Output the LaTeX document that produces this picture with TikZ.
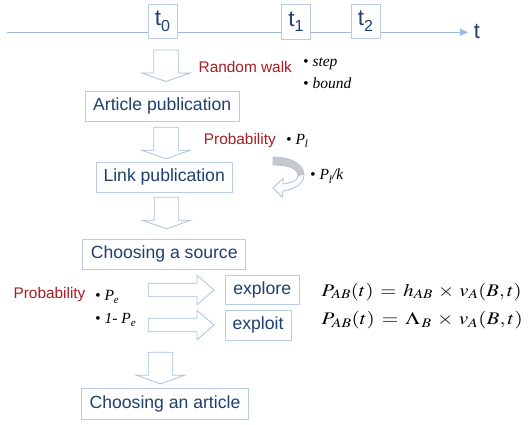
\documentclass[tikz,border=0pt]{standalone}
\usepackage{graphicx}
\usepackage{mathptmx}
\usepackage{fontspec}
\setmainfont{Liberation Sans}
\newfontfamily\tms{Liberation Serif}
\usetikzlibrary{arrows.meta}
\definecolor{txtblue}{HTML}{1F3F6E}
\definecolor{boxline}{HTML}{B9CDE5}
\definecolor{arrline}{HTML}{A9C2E0}
\definecolor{tline}{HTML}{9DB8DA}
\definecolor{lblred}{HTML}{A61D22}
\definecolor{bandgray}{HTML}{C8C8C8}
\newcommand\tlabel[1]{t\raisebox{-5.5pt}{\fontsize{16}{16}\selectfont #1}}
\newcommand\sbs[1]{\raisebox{-3.5pt}{\fontsize{11}{11}\selectfont #1}}
\newcommand\formula[2]{\resizebox{#1}{\height}{\fontsize{17.7}{20}\selectfont$\displaystyle #2$}}
\begin{document}
\begin{tikzpicture}[x=1pt,y=-1pt,
  box/.style={draw=boxline,line width=0.8pt,fill=white,inner sep=0pt,text=txtblue,font=\fontsize{17.6}{20}\selectfont},
  tbox/.style={box,minimum width=29pt,minimum height=34.5pt,font=\fontsize{22.5}{22}\selectfont},
  redlbl/.style={text=lblred,font=\fontsize{15.4}{18}\selectfont,inner sep=0pt},
  itl/.style={font=\tms\itshape\fontsize{15.5}{18}\selectfont,inner sep=0pt,anchor=west},
  blockarrow/.style={draw=arrline,line width=0.8pt,fill=white,line join=miter},
  darrow/.pic={\draw[blockarrow] (-12.3,0) -- (12.3,0) -- (12.3,23) -- (24,23) -- (0,31.5) -- (-24,23) -- (-12.3,23) -- cycle;},
  rarrow/.pic={\draw[blockarrow] (0,-6.7) -- (48.7,-6.7) -- (48.7,-14.7) -- (65.7,0) -- (48.7,14.7) -- (48.7,6.7) -- (0,6.7) -- cycle;},
]
\useasboundingbox (0,0) rectangle (529,424);
% timeline
\coordinate (tstart) at (7,32.3);
\coordinate (tend) at (468,32.3);
\node[inner sep=0pt,text=txtblue,font=\fontsize{22}{22}\selectfont] (tlab) at (477,31) {t};
\draw[tline,line width=1pt,-{Triangle[length=8pt,width=7pt]}] (tstart) -- (tend);
\node[tbox] (t0) at (162.5,21.2) {\tlabel{0}};
\node[tbox,minimum width=28.3pt,minimum height=35pt] (t1) at (295.9,21.5) {\tlabel{1}};
\node[tbox] (t2) at (365.5,21.2) {\tlabel{2}};
% down arrows
\pic at (166,50) {darrow};
\pic at (166,127.3) {darrow};
\pic at (166.5,197.3) {darrow};
\pic at (160.5,352.3) {darrow};
% boxes
\node[box,minimum width=154.3pt,minimum height=29.3pt] (art) at (162.2,106.3) {Article publication};
\node[box,minimum width=136.3pt,minimum height=30pt] (link) at (164.2,177.3) {Link publication};
\node[box,minimum width=163pt,minimum height=29.7pt] (src) at (164.2,254.2) {Choosing a source};
\node[box,minimum width=166.6pt,minimum height=30.7pt] (arti) at (165,403.7) {Choosing an article};
\node[box,minimum width=74.3pt,minimum height=29.3pt] (explore) at (262.2,289.7) {explore};
\node[box,minimum width=66pt,minimum height=29.3pt] (exploit) at (258,325.3) {exploit};
% right arrows
\pic at (148.3,290) {rarrow};
\pic at (148.3,325) {rarrow};
% curved arrow
\fill[white] (273,157) .. controls (292,157) and (304,165) .. (304,175) .. controls (304,183) and (296,189) .. (283,191) -- (282,197) -- (273,188) -- (283,178.5) -- (283,184) .. controls (292,183) and (298,180) .. (298,176) .. controls (298,169) and (290,165) .. (273,165) -- cycle;
\fill[bandgray] (273,157) .. controls (292,157) and (304,165) .. (304,175) -- (298,176) .. controls (298,169) and (290,165) .. (273,165) -- cycle;
\draw[arrline,line width=0.8pt,line join=miter] (273,157) .. controls (292,157) and (304,165) .. (304,175) .. controls (304,183) and (296,189) .. (283,191) -- (282,197) -- (273,188) -- (283,178.5) -- (283,184) .. controls (292,183) and (298,180) .. (298,176) .. controls (298,169) and (290,165) .. (273,165) -- cycle;
% labels
\node[redlbl] (rw) at (245.3,67.3) {Random walk};
\node[itl] (step) at (303,64) {\textbullet\ step};
\node[itl] (bound) at (303,83.3) {\textbullet\ bound};
\node[redlbl] (prob1) at (239.8,140.7) {Probability};
\node[itl] (pl) at (286,141) {\textbullet\ P\sbs{l}};
\node[itl] (plk) at (310,176) {\textbullet\ P\sbs{l}/k};
\node[redlbl] (prob2) at (49.5,295) {Probability};
\node[itl] (pe) at (95,297) {\textbullet\ P\sbs{e}};
\node[itl] (pe2) at (95,320) {\textbullet\ 1- P\sbs{e}};
% formulas
\node[inner sep=0pt] (f1) at (421.7,291.7) {\formula{200pt}{P_{AB}(t)\,=\,h_{AB}\,\times\,v_A(B,t)}};
\node[inner sep=0pt] (f2) at (422.2,320) {\formula{201pt}{P_{AB}(t)\,=\,\Lambda_{\,B}\,\times\,v_A(B,t)}};
\end{tikzpicture}
\end{document}
